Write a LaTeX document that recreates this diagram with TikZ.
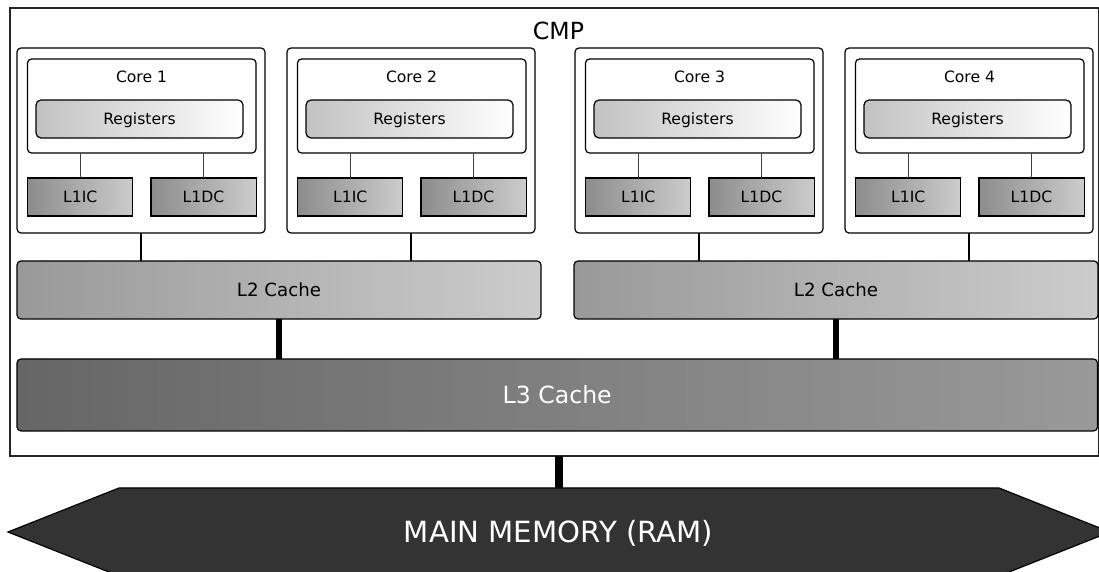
\documentclass[tikz,border=0pt]{standalone}
\usepackage{fontspec}
\setmainfont{DejaVu Sans}
\definecolor{regleft}{gray}{0.76}
\definecolor{lonel}{gray}{0.55}
\definecolor{loner}{gray}{0.80}
\definecolor{ltwol}{gray}{0.60}
\definecolor{ltwor}{gray}{0.80}
\definecolor{lthreel}{gray}{0.40}
\definecolor{lthreer}{gray}{0.60}
\definecolor{memfill}{gray}{0.20}

\begin{document}
\begin{tikzpicture}[x=0.5pt,y=-0.5pt,
  box/.style={draw=black,line width=0.6pt,inner sep=0pt,outer sep=0pt},
  smalltext/.style={font=\fontsize{7.8pt}{9pt}\selectfont,text height=5.7pt,text depth=0pt},
  coreouter/.style={box,fill=white,rounded corners=2pt,minimum width=124pt,minimum height=92.5pt},
  coreinner/.style={box,fill=white,rounded corners=2pt,minimum width=114.25pt,minimum height=47pt},
  regbox/.style={box,smalltext,rounded corners=2.5pt,left color=regleft,right color=white,
    minimum width=103.5pt,minimum height=19pt},
  lonebox/.style={box,smalltext,left color=lonel,right color=loner,minimum width=52.6pt,minimum height=19pt},
  ltwobox/.style={box,rounded corners=2pt,left color=ltwol,right color=ltwor,
    font=\fontsize{9.1pt}{11pt}\selectfont,text height=6.6pt,text depth=0pt,
    minimum width=262pt,minimum height=29pt},
  thinlink/.style={black!75,line width=0.5pt},
  corelink/.style={black,line width=1pt},
  ltwolink/.style={black,line width=2.6pt},
  memlink/.style={black,line width=4pt}]
\useasboundingbox (0,0) rectangle (1099,572);
\clip (0,0) rectangle (1099,572);
% The chip
\node[box,draw=black!85,minimum width=544.25pt,minimum height=224pt] (cmp) at (554.25,232) {};
\node[font=\fontsize{11.8pt}{14pt}\selectfont,text height=8.6pt,text depth=0pt] (cmplabel) at (558.5,31) {CMP};
% The cores
\foreach \i/\x in {1/17,2/287,3/575,4/845}
{
  \node[coreouter] (core\i) at (\x+124,140.5) {};
  \node[coreinner] (inner\i) at (\x+124.75,106) {};
  \node[smalltext] (corelabel\i) at (\x+124.5,76.7) {Core \i};
  \node[regbox] (reg\i) at (\x+122.5,119) {Registers};
  \node[lonebox] (lic\i) at (\x+63.25,197) {L1IC};
  \node[lonebox] (ldc\i) at (\x+186.5,197) {L1DC};
  \draw[thinlink] (lic\i.north) -- (lic\i.north |- inner\i.south);
  \draw[thinlink] (ldc\i.north) -- (ldc\i.north |- inner\i.south);
}
% The L2 caches
\node[ltwobox] (ltwoa) at (279,290) {L2 Cache};
\node[ltwobox] (ltwob) at (836,290) {L2 Cache};
\foreach \i/\c in {1/ltwoa,2/ltwoa,3/ltwob,4/ltwob}
  \draw[corelink] (core\i.south) -- (core\i.south |- \c.north);
% The L3 cache
\node[box,rounded corners=2pt,left color=lthreel,right color=lthreer,text=white,
  font=\fontsize{11.8pt}{14pt}\selectfont,text height=8.6pt,text depth=0pt,
  minimum width=540.25pt,minimum height=36pt] (lthree) at (557.25,395) {L3 Cache};
\draw[ltwolink] (ltwoa.south) -- (ltwoa.south |- lthree.north);
\draw[ltwolink] (ltwob.south) -- (ltwob.south |- lthree.north);
% Main memory
\fill[memfill,draw=black,line width=0.6pt] (8,532) -- (119,488) -- (999,488) -- (1110,532) -- (999,576) -- (119,576) -- cycle;
\coordinate (memtop) at (558.5,488);
\node[text=white,font=\fontsize{14.6pt}{17pt}\selectfont,text height=10.6pt,text depth=0pt] (mem) at (558.5,532) {MAIN MEMORY (RAM)};
\draw[memlink] (memtop |- cmp.south) -- (memtop);
\end{tikzpicture}
\end{document}
